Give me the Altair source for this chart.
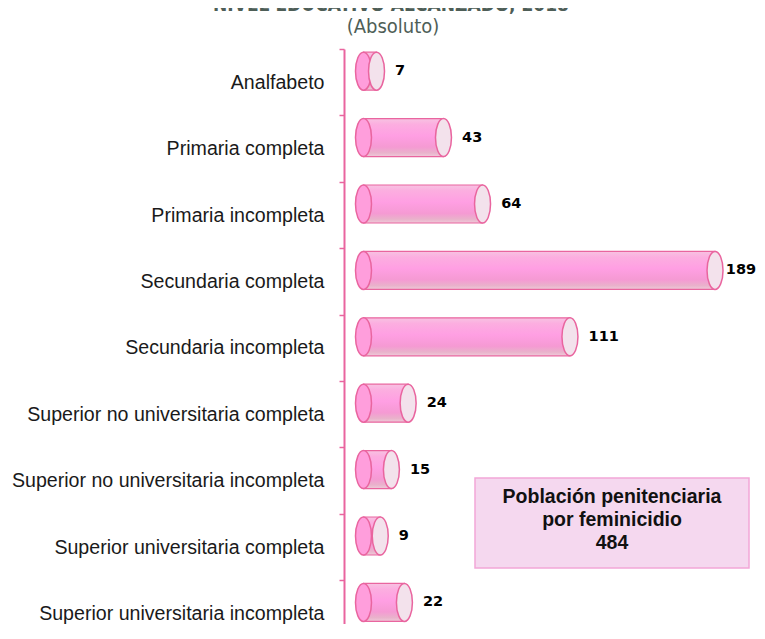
import altair as alt
import pandas as pd

title_text = "NIVEL EDUCATIVO ALCANZADO, 2018"
subtitle_text = "(Absoluto)"
categories = [
    "Analfabeto",
    "Primaria completa",
    "Primaria incompleta",
    "Secundaria completa",
    "Secundaria incompleta",
    "Superior no universitaria completa",
    "Superior no universitaria incompleta",
    "Superior universitaria completa",
    "Superior universitaria incompleta",
]
values = [7, 43, 64, 189, 111, 24, 15, 9, 22]
box_lines = ["Población penitenciaria", "por feminicidio", "484"]

df = pd.DataFrame({"cat": categories, "value": values})

PINK = "#e9659f"
ELLIPSE = ("M0,-1C0.2325,-1 0.421,-0.5523 0.421,0C0.421,0.5523 0.2325,1 0,1"
           "C-0.2325,1 -0.421,0.5523 -0.421,0C-0.421,-0.5523 -0.2325,-1 0,-1Z")

y_enc = alt.Y(
    "cat:N",
    sort=categories,
    scale=alt.Scale(type="band", range=[0, 597.6], paddingInner=0, paddingOuter=0),
    axis=alt.Axis(
        title=None, domainColor=PINK, domainWidth=2, tickColor=PINK, tickWidth=1.5,
        tickSize=5, tickBand="extent", labelFont="Liberation Sans", labelFontSize=19.6,
        labelColor="#1a1a1a", labelPadding=15, labelLimit=400,
    ),
)
x_scale = alt.Scale(domain=[-10.48, 204.04], nice=False, zero=False)

gradient = alt.Gradient(
    gradient="linear",
    stops=[
        alt.GradientStop(color="#f7c3e2", offset=0),
        alt.GradientStop(color="#fcaee0", offset=0.15),
        alt.GradientStop(color="#ff9fe3", offset=0.45),
        alt.GradientStop(color="#f59ad3", offset=0.75),
        alt.GradientStop(color="#e9b2cb", offset=0.9),
        alt.GradientStop(color="#efcad9", offset=1),
    ],
    x1=0, x2=0, y1=0, y2=1,
)

base = alt.Chart(df).transform_calculate(zero="0", labx="min(datum.value + 10, 194.8)")

body = base.mark_bar(height=38, yOffset=-11, fill=gradient, stroke=PINK, strokeWidth=1.2).encode(
    x=alt.X("zero:Q", scale=x_scale, axis=None), x2="value:Q", y=y_enc
)
left = base.mark_point(shape=ELLIPSE, size=1444, filled=True, fill="#ff9edc", stroke=PINK,
                       strokeWidth=1.5, opacity=1, yOffset=-11).encode(x="zero:Q", y=y_enc)
right = base.mark_point(shape=ELLIPSE, size=1444, filled=True, fill="#f3e2ec", stroke=PINK,
                        strokeWidth=1.5, opacity=1, yOffset=-11).encode(x="value:Q", y=y_enc)
labels = base.mark_text(align="left", baseline="middle", font="DejaVu Sans", fontWeight="bold",
                        fontSize=14.5, color="#000000", yOffset=-11).encode(
    x="labx:Q", y=y_enc, text="value:Q"
)

box_df = pd.DataFrame({"t": ["\n".join(box_lines)]})
box_rect = alt.Chart(box_df).mark_rect(fill="#f5d8ef", stroke="#f2a6d8", strokeWidth=1.5).encode(
    x=alt.value(131), x2=alt.value(405), y=alt.value(429), y2=alt.value(519)
)
box_text = alt.Chart(box_df).mark_text(
    align="center", baseline="middle", font="Liberation Sans", fontWeight="bold",
    fontSize=19.5, lineHeight=23, lineBreak="\n", color="#111111"
).encode(x=alt.value(268), y=alt.value(448), text="t:N")

title_df = pd.DataFrame({"t": [title_text]})
sub_df = pd.DataFrame({"t": [subtitle_text]})
title = alt.Chart(title_df).mark_text(
    align="center", baseline="alphabetic", font="DejaVu Sans Condensed, Liberation Sans Narrow, sans-serif",
    fontWeight="bold", fontSize=19, color="#4e5e57"
).encode(x=alt.value(47), y=alt.value(-38), text="t:N")
sub = alt.Chart(sub_df).mark_text(
    align="center", baseline="middle", font="DejaVu Sans Condensed, Liberation Sans Narrow, sans-serif",
    fontSize=20, color="#4e5e57"
).encode(x=alt.value(49), y=alt.value(-22), text="t:N")

chart = alt.layer(body, left, right, labels, box_rect, box_text, title, sub).properties(
    width=399, height=575,
    autosize=alt.AutoSizeParams(type="none"),
    padding={"left": 336, "top": 41, "right": 14, "bottom": 0},
    background="white",
).configure_view(stroke=None)

chart.save("out.html", embed_options={"renderer": "svg", "actions": False})
